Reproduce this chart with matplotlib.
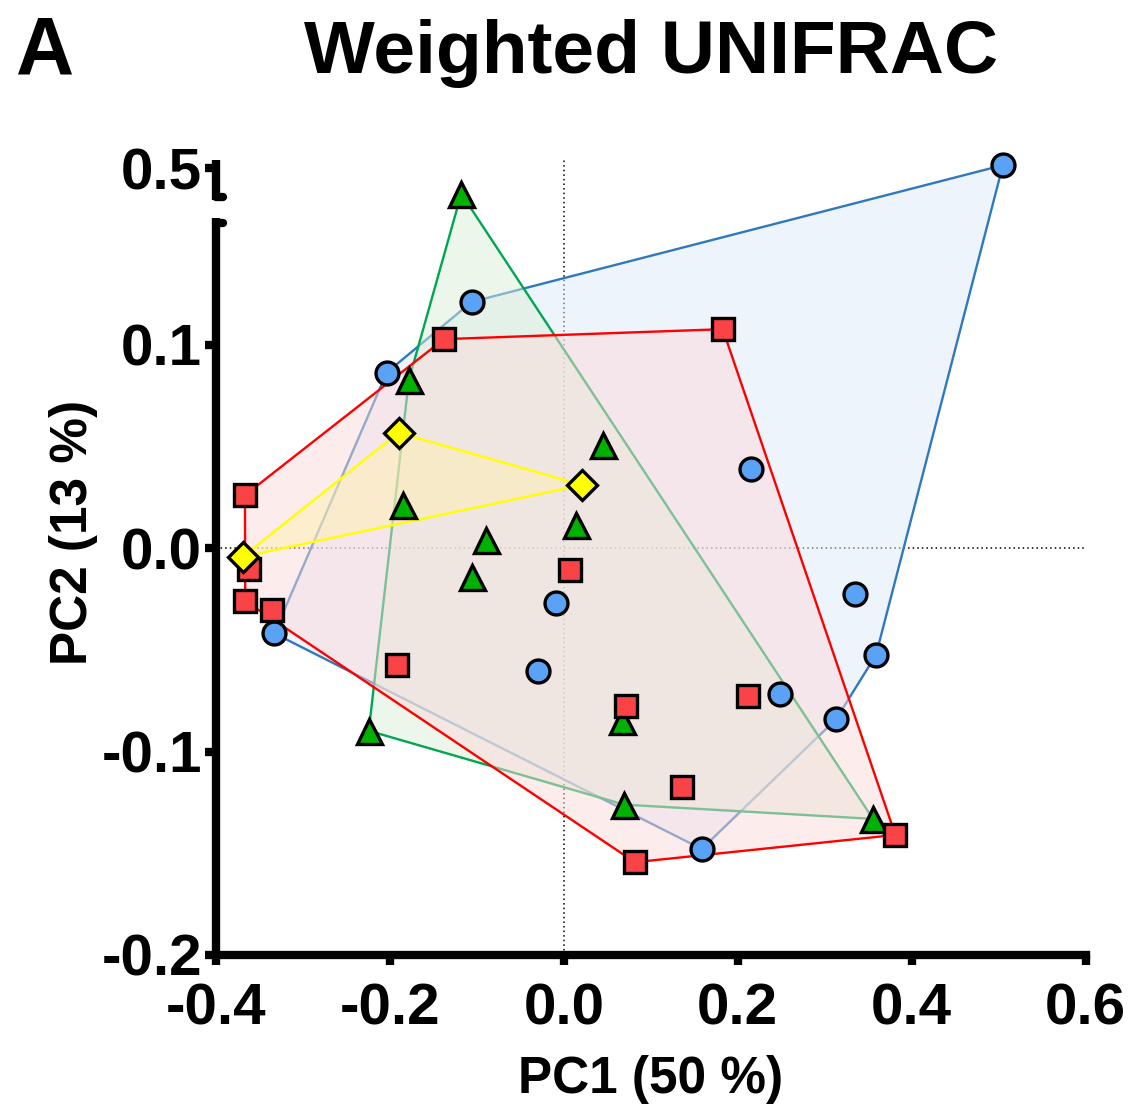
import numpy as np
import matplotlib
matplotlib.use("Agg")
import matplotlib.pyplot as plt

plt.rcParams['font.family'] = ['Liberation Sans', 'DejaVu Sans']
plt.rcParams['font.weight'] = 'bold'

# PCoA coordinates (PC1, PC2) for each group
blue_x = [0.505, -0.106, -0.2036, 0.215, -0.333, -0.0084, -0.0296, 0.335, 0.359, 0.249, 0.313, 0.1586]
blue_y = [0.5015, 0.121, 0.0863, 0.0388, -0.0419, -0.0272, -0.0603, -0.0226, -0.0526, -0.0717, -0.0842, -0.1479]

red_x = [-0.1379, 0.1828, -0.3667, -0.3626, -0.3664, -0.3361, 0.0077, -0.192, 0.0714, 0.2116, 0.1356, 0.3813, 0.0818]
red_y = [0.1027, 0.1076, 0.026, -0.0105, -0.026, -0.0305, -0.0108, -0.0575, -0.0776, -0.0727, -0.1173, -0.141, -0.1544]

green_x = [-0.1179, -0.1782, -0.1851, 0.0138, 0.0453, -0.0899, -0.1056, -0.2243, 0.0665, 0.0695, 0.3556]
green_y = [0.4875, 0.0826, 0.0211, 0.0113, 0.0506, 0.0038, -0.0143, -0.0898, -0.085, -0.1261, -0.1331]

yellow_x = [-0.1901, 0.0211, -0.3694]
yellow_y = [0.0567, 0.031, -0.0043]

x_ticks = [-0.4, -0.2, 0.0, 0.2, 0.4, 0.6]
x_labels = ['-0.4', '-0.2', '0.0', '0.2', '0.4', '0.6']
y_ticks = [-0.2, -0.1, 0.0, 0.1, 0.5]
y_labels = ['-0.2', '-0.1', '0.0', '0.1', '0.5']

# broken y axis: lower segment up to LOW_TOP, upper segment from HIGH_BOT
LOW_TOP = 0.1622
HIGH_BOT = 0.4843
SHIFT = 0.3133
GAP = HIGH_BOT - SHIFT - LOW_TOP


def fwd(y):
    y = np.asarray(y, dtype=float)
    mid = LOW_TOP + (y - LOW_TOP) * GAP / (HIGH_BOT - LOW_TOP)
    return np.where(y <= LOW_TOP, y, np.where(y >= HIGH_BOT, y - SHIFT, mid))


def inv(d):
    d = np.asarray(d, dtype=float)
    mid = LOW_TOP + (d - LOW_TOP) * (HIGH_BOT - LOW_TOP) / GAP
    return np.where(d <= LOW_TOP, d, np.where(d >= HIGH_BOT - SHIFT, d + SHIFT, mid))


def hull(xs, ys):
    # monotone chain convex hull, done in the displayed (broken) coordinates
    ds = fwd(ys)
    order = sorted(range(len(xs)), key=lambda i: (xs[i], ds[i]))

    def cross(o, a, b):
        return (xs[a] - xs[o]) * (ds[b] - ds[o]) - (ds[a] - ds[o]) * (xs[b] - xs[o])

    lower, upper = [], []
    for i in order:
        while len(lower) >= 2 and cross(lower[-2], lower[-1], i) <= 0:
            lower.pop()
        lower.append(i)
    for i in reversed(order):
        while len(upper) >= 2 and cross(upper[-2], upper[-1], i) <= 0:
            upper.pop()
        upper.append(i)
    idx = lower[:-1] + upper[:-1]
    return [xs[i] for i in idx], [ys[i] for i in idx]


groups = [
    # x, y, marker, size, face, line, fill
    (blue_x, blue_y, 'o', 16.5, '#5AA2F6', '#2F78BD', '#DCEBFA'),
    (green_x, green_y, '^', 18, '#00B200', '#00A651', '#DCEFD8'),
    (red_x, red_y, 's', 16.5, '#F94346', '#FF0000', '#FBDADA'),
    (yellow_x, yellow_y, 'D', 15.5, '#FFFF00', '#FFFF00', '#FFF0B0'),
]

fig = plt.figure(figsize=(11.4, 11.17), dpi=100)
ax = fig.add_axes([216 / 1140, 162 / 1117, 869.5 / 1140, 824 / 1117])
ax.set_yscale('function', functions=(fwd, inv))
ax.set_xlim(-0.4, 0.6)
ax.set_ylim(-0.2, float(inv(0.205)))

# reference lines at zero
ax.axhline(0, color='black', lw=1.1, ls=(0, (1, 2)), zorder=0.5)
ax.plot([0, 0], [-0.2, 0.504], color='black', lw=1.1, ls=(0, (1, 2)), zorder=0.5)

# convex hulls
for k, (gx, gy, mk, ms, face, line, fill) in enumerate(groups):
    hx, hy = hull(gx, gy)
    ax.fill(hx, hy, color=fill, alpha=0.5, lw=0, zorder=1 + k)
    ax.plot(hx + hx[:1], hy + hy[:1], color=line, lw=1.7, zorder=1.5 + k)

# points
for k in [0, 2, 1, 3]:
    gx, gy, mk, ms, face, line, fill = groups[k]
    ax.plot(gx, gy, ls='none', marker=mk, ms=ms, mfc=face, mec='black',
            mew=2.4, zorder=10 + k, clip_on=False)

# axes styling (Prism-like)
for s in ['top', 'right', 'left']:
    ax.spines[s].set_visible(False)
ax.spines['bottom'].set_linewidth(6)
ax.spines['bottom'].set_capstyle('projecting')

ax.plot([-0.4, -0.4], [-0.2, LOW_TOP], color='black', lw=6,
        solid_capstyle='butt', clip_on=False, zorder=20)
ax.plot([-0.4, -0.4], [HIGH_BOT, 0.504], color='black', lw=6,
        solid_capstyle='butt', clip_on=False, zorder=20)
ax.plot([-0.4, -0.392], [0.160, 0.160], color='black', lw=6,
        solid_capstyle='round', clip_on=False, zorder=20)
ax.plot([-0.4, -0.392], [0.4858, 0.4858], color='black', lw=6,
        solid_capstyle='round', clip_on=False, zorder=20)

ax.set_xticks(x_ticks)
ax.set_xticklabels(x_labels, fontweight='bold')
ax.set_yticks(y_ticks)
ax.set_yticklabels(y_labels, fontweight='bold')
ax.tick_params(axis='x', direction='out', length=7, width=6, pad=13, labelsize=42)
ax.tick_params(axis='y', direction='out', length=8, width=6, pad=2, labelsize=42)
ax.minorticks_off()

fig.text(651 / 1140, 1 - 73 / 1117, 'Weighted UNIFRAC', ha='center', va='baseline',
         fontsize=54, fontweight='bold')
fig.text(16 / 1140, 1 - 73 / 1117, 'A', ha='left', va='baseline',
         fontsize=58, fontweight='bold')
fig.text(651 / 1140, 1 - 1093 / 1117, 'PC1 (50 %)', ha='center', va='baseline',
         fontsize=37, fontweight='bold')
fig.text(87 / 1140, 1 - 532 / 1117, 'PC2 (13 %)', rotation=90, rotation_mode='anchor',
         ha='center', va='baseline', fontsize=37, fontweight='bold')

fig.savefig('out.png', dpi=100)
